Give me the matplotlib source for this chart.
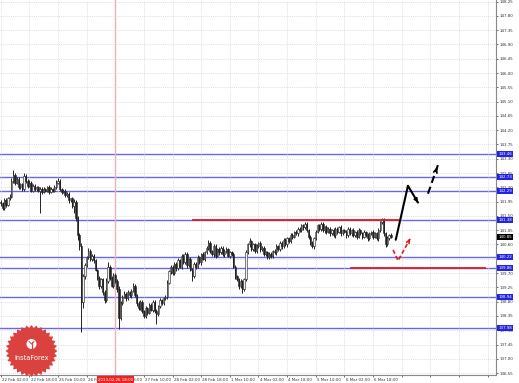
import numpy as np
import matplotlib
matplotlib.use("Agg")
import matplotlib.pyplot as plt
import matplotlib.transforms as mtransforms
from matplotlib.patches import Polygon, Circle

# ---- data (GBP/JPY H1) ----
first_open = 141.95
closes = [
    141.90, 141.75, 142.00, 141.85, 142.05, 142.10, 142.60, 142.80, 142.55, 142.65,
    142.40, 142.50, 142.35, 142.75, 142.60, 142.45, 142.55, 142.30, 142.45, 142.35,
    142.40, 142.30, 142.35, 142.25, 142.35, 142.30, 142.40, 142.25, 142.35, 142.30,
    142.40, 142.55, 142.60, 142.35, 142.25, 142.30, 142.15, 142.20, 142.00, 142.05,
    141.80, 141.95, 141.45, 140.90, 140.55, 138.80, 139.60, 139.95, 140.20, 140.40,
    140.15, 140.25, 140.10, 139.80, 139.55, 139.30, 139.50, 139.10, 138.85, 139.45,
    139.90, 139.55, 139.30, 139.65, 139.45, 139.20, 138.30, 138.75, 138.95, 139.05,
    138.90, 139.10, 139.00, 139.15, 139.30, 139.00, 138.75, 138.60, 138.80, 138.50,
    138.35, 138.60, 138.45, 138.70, 138.55, 138.80, 138.50, 138.40, 138.65, 138.85,
    138.75, 138.90, 138.95, 139.40, 139.75, 139.90, 139.70, 140.00, 139.85, 140.10,
    139.90, 140.25, 140.05, 140.30, 139.95, 140.15, 139.80, 139.60, 140.00, 139.90,
    140.20, 140.05, 140.30, 140.15, 140.35, 140.50, 140.65, 140.40, 140.30, 140.55,
    140.25, 140.45, 140.35, 140.50, 140.30, 140.40, 140.45, 140.25, 140.35, 140.30,
    139.90, 139.60, 139.50, 139.30, 139.45, 139.20, 139.50, 140.35, 140.60, 140.70,
    140.45, 140.60, 140.40, 140.55, 140.65, 140.45, 140.50, 140.30, 140.35, 140.20,
    140.30, 140.25, 140.40, 140.35, 140.55, 140.45, 140.65, 140.55, 140.75, 140.60,
    140.80, 140.70, 140.90, 140.85, 141.00, 140.95, 141.10, 141.05, 141.20, 141.15,
    141.25, 141.05, 140.85, 140.65, 140.55, 140.80, 141.00, 141.20, 141.10, 141.25,
    141.05, 141.15, 141.00, 141.10, 140.95, 141.05, 140.90, 141.10, 141.00, 141.15,
    140.95, 141.05, 141.00, 140.90, 141.10, 140.95, 141.05, 140.90, 141.00, 140.85,
    141.05, 140.95, 140.85, 141.00, 140.90, 140.80, 140.95, 141.00, 140.85, 140.95,
    140.80, 141.05, 141.30, 141.40, 140.95, 140.60, 140.80, 140.90, 140.85,
]
# wick lengths above / below the body, in pips
up_wick = [
    6, 4, 8, 5, 6, 10, 8, 15, 5, 7, 6, 5, 4, 10, 6, 5, 7, 4, 6, 5,
    5, 4, 6, 5, 6, 4, 5, 6, 5, 4, 6, 8, 10, 5, 4, 6, 4, 5, 6, 3,
    5, 8, 4, 6, 5, 10, 8, 6, 5, 10, 6, 5, 4, 5, 4, 6, 5, 4, 6, 8,
    15, 5, 6, 5, 4, 6, 8, 6, 5, 7, 5, 6, 4, 6, 10, 5, 4, 6, 5, 4,
    5, 6, 4, 5, 6, 4, 5, 6, 5, 6, 4, 5, 6, 8, 6, 5, 4, 6, 5, 7,
    5, 6, 4, 5, 6, 4, 5, 6, 5, 4, 6, 5, 4, 6, 5, 6, 10, 5, 4, 6,
    5, 4, 6, 5, 4, 5, 6, 4, 5, 4, 6, 5, 4, 6, 5, 4, 6, 8, 6, 10,
    5, 4, 6, 5, 4, 5, 6, 4, 5, 4, 6, 5, 4, 5, 6, 4, 5, 6, 4, 5,
    5, 4, 6, 5, 4, 5, 6, 4, 5, 4, 7, 5, 4, 5, 6, 4, 5, 6, 4, 5,
    5, 4, 6, 5, 4, 5, 6, 4, 5, 4, 6, 5, 4, 5, 6, 4, 5, 6, 4, 5,
    6, 4, 5, 5, 4, 6, 5, 4, 6, 5, 4, 6, 5, 4, 4, 5, 6, 4, 5,
]
dn_wick = [
    8, 6, 5, 7, 5, 6, 4, 6, 8, 5, 6, 4, 7, 5, 6, 8, 5, 6, 4, 7,
    5, 6, 70, 5, 4, 6, 5, 7, 4, 6, 5, 4, 6, 5, 7, 4, 6, 5, 8, 6,
    6, 20, 10, 15, 12, 95, 20, 8, 6, 5, 7, 6, 8, 5, 6, 10, 6, 8, 10, 5,
    6, 7, 5, 8, 6, 10, 35, 8, 6, 5, 7, 6, 5, 7, 6, 5, 8, 6, 5, 7,
    5, 6, 8, 5, 6, 7, 5, 30, 6, 5, 7, 6, 5, 6, 5, 8, 6, 5, 7, 6,
    5, 7, 6, 5, 8, 6, 5, 15, 6, 7, 5, 6, 8, 5, 6, 5, 7, 6, 5, 8,
    6, 5, 7, 6, 5, 8, 6, 5, 7, 6, 5, 8, 6, 10, 7, 13, 8, 6, 5, 7,
    6, 5, 7, 6, 5, 8, 6, 5, 7, 6, 5, 8, 6, 5, 7, 6, 5, 8, 6, 5,
    7, 6, 5, 8, 6, 5, 7, 6, 5, 8, 6, 5, 7, 6, 5, 8, 6, 5, 7, 6,
    5, 8, 6, 5, 7, 6, 5, 8, 6, 5, 7, 6, 5, 8, 6, 5, 7, 6, 5, 8,
    6, 5, 7, 6, 5, 8, 6, 5, 7, 6, 5, 8, 6, 5, 7, 8, 6, 5, 6,
]

time_labels = ["22 Feb 02:00", "22 Feb 18:00", "25 Feb 10:00", "26 Feb 02:00",
               "26 Feb 18:00", "27 Feb 10:00", "28 Feb 02:00", "28 Feb 18:00",
               "1 Mar 10:00", "4 Mar 02:00", "4 Mar 18:00", "5 Mar 10:00",
               "6 Mar 02:00", "6 Mar 18:00"]
bars_per_label = 16
price_ticks = [148.25, 147.80, 147.35, 146.90, 146.45, 146.00, 145.55, 145.10,
               144.65, 144.20, 143.75, 143.30, 142.85, 142.40, 141.95, 141.50,
               141.05, 140.60, 140.15, 139.70, 139.25, 138.80, 138.35, 137.90,
               137.45, 137.00, 136.55]

levels = [143.46, 142.73, 142.29, 141.38, 140.22, 139.86, 138.94, 137.98]
red_levels = [141.38, 139.86]
red_from = [107.5, 195.7]
red_to = [222.0, 270.5]

marker_bar = 64
marker_label = "2013.02.26 18:00"

# forecast sketches (bar, price)
up_bars = [220.7, 227.5, 233.1]
up_prices = [140.75, 142.45, 141.92]
up2_bars = [238.7, 244.3]
up2_prices = [142.20, 143.11]
dip_bars = [219.2, 222.0, 228.7]
dip_prices = [140.43, 140.09, 140.78]

# ---- figure ----
W, H, DPI = 519, 383, 100
fig = plt.figure(figsize=(W / DPI, H / DPI), dpi=DPI, facecolor="white")
ax = fig.add_axes([0, 1 - 375 / H, 496 / W, 375 / H])
ax.set_facecolor("white")
ax.set_xlim(-0.4, 276.7)
ax.set_ylim(136.49, 148.30)

FS = 2.9
n = len(closes)
x = np.arange(n)
c = np.array(closes)
o = np.concatenate([[first_open], c[:-1]])
hi = np.maximum(o, c) + np.array(up_wick) / 100
lo = np.minimum(o, c) - np.array(dn_wick) / 100

# grid at every label step, continuing into the empty right side
grid_bars = np.arange(0, 277, bars_per_label)
ax.set_xticks(grid_bars)
ax.set_xticklabels(time_labels + [""] * (len(grid_bars) - len(time_labels)), fontsize=FS)
ax.set_yticks(price_ticks)
ax.set_yticklabels([f"{p:.2f}" for p in price_ticks], fontsize=FS)
ax.yaxis.tick_right()
ax.tick_params(axis="both", length=1.5, width=0.5, pad=0.8, colors="#333333")
shift = mtransforms.ScaledTranslation(1.2 / DPI, 0, fig.dpi_scale_trans)
for lbl in ax.get_xticklabels():
    lbl.set_horizontalalignment("left")
    lbl.set_transform(lbl.get_transform() + shift)
ax.grid(True, color="#d4d4d4", linestyle=(0, (1.5, 1.5)), linewidth=0.5, zorder=0)
for side in ("left", "top"):
    ax.spines[side].set_visible(False)
for side in ("right", "bottom"):
    ax.spines[side].set_color("#888888")
    ax.spines[side].set_linewidth(0.8)

# level lines
for lv in levels:
    ax.axhline(lv, color="#6666ee", lw=1.0, zorder=1)
ax.axvline(marker_bar, color="#f4a4a4", lw=1.0, zorder=1)
for lv, a, b in zip(red_levels, red_from, red_to):
    ax.plot([a, b], [lv, lv], color="#e21b1b", lw=1.3, zorder=3)

# candles
ax.vlines(x, lo, hi, color="#222222", lw=0.7, zorder=2)
bull = c >= o
body = np.maximum(np.abs(c - o), 0.015)
ax.bar(x, body, bottom=np.minimum(o, c), width=0.75,
       color=np.where(bull, "#f0f0f0", "#222222"), edgecolor="#222222",
       linewidth=0.4, zorder=2)

# forecast arrows
ax.plot(up_bars, up_prices, color="black", lw=1.5, zorder=4, solid_capstyle="round")
ax.annotate("", xy=(up_bars[-1], up_prices[-1]),
            xytext=(up_bars[-2] + 0.8 * (up_bars[-1] - up_bars[-2]),
                    up_prices[-2] + 0.8 * (up_prices[-1] - up_prices[-2])),
            arrowprops=dict(arrowstyle="->", color="black", lw=1.3, mutation_scale=5),
            zorder=4)
ax.plot(up2_bars, up2_prices, color="black", lw=1.5, ls=(0, (3.5, 2)), zorder=4)
ax.annotate("", xy=(up2_bars[-1], up2_prices[-1]),
            xytext=(up2_bars[0] + 0.8 * (up2_bars[-1] - up2_bars[0]),
                    up2_prices[0] + 0.8 * (up2_prices[-1] - up2_prices[0])),
            arrowprops=dict(arrowstyle="->", color="black", lw=1.3, mutation_scale=6),
            zorder=4)
ax.plot(dip_bars, dip_prices, color="#e21b1b", lw=1.2, ls=(0, (2.5, 1.5)), zorder=4)
ax.annotate("", xy=(dip_bars[-1], dip_prices[-1]),
            xytext=(dip_bars[-2] + 0.8 * (dip_bars[-1] - dip_bars[-2]),
                    dip_prices[-2] + 0.8 * (dip_prices[-1] - dip_prices[-2])),
            arrowprops=dict(arrowstyle="->", color="#e21b1b", lw=1.2, mutation_scale=5),
            zorder=4)

# price boxes on the right scale
tr = mtransforms.blended_transform_factory(ax.transAxes, ax.transData)
box_x = 1 + 2.5 / 496
for lv in levels:
    ax.text(box_x, lv, f"{lv:.2f}", transform=tr, fontsize=FS, color="white",
            va="center", ha="left", clip_on=False, zorder=6,
            bbox=dict(boxstyle="square,pad=0.25", fc="#2323e6", ec="none"))
ax.text(box_x, closes[-1], f"{closes[-1]:.2f}", transform=tr, fontsize=FS,
        color="white", va="center", ha="left", clip_on=False, zorder=6,
        bbox=dict(boxstyle="square,pad=0.25", fc="black", ec="none"))

# vertical-line time label (covers part of the regular time labels, as in MT4)
trx = mtransforms.blended_transform_factory(ax.transData, ax.transAxes)
ax.text(marker_bar, -4.6 / 375, marker_label, transform=trx, fontsize=FS,
        color="white", ha="center", va="center", clip_on=False, zorder=6,
        bbox=dict(boxstyle="square,pad=0.3", fc="#ee2222", ec="none"))

# InstaForex badge (pixel coordinates overlay)
ov = fig.add_axes([0, 0, 1, 1], zorder=10)
ov.set_xlim(0, W)
ov.set_ylim(H, 0)
ov.axis("off")
ov.patch.set_alpha(0)
cx, cy = 31.5, 351
ang = np.linspace(0, 2 * np.pi, 64, endpoint=False)
rad = np.where(np.arange(64) % 2 == 0, 26.0, 23.0)
ov.add_patch(Polygon(np.c_[cx + rad * np.cos(ang), cy + rad * np.sin(ang)],
                     closed=True, fc="#d9423e", ec="none"))
ov.add_patch(Circle((cx, cy - 7), 5.0, fc="white", ec="none"))
ov.plot([cx, cx], [cy - 9, cy - 3.5], color="#d9423e", lw=0.9)
ov.plot([cx - 2.5, cx, cx + 2.5], [cy - 9.5, cy - 7, cy - 9.5], color="#d9423e", lw=0.7)
ov.text(cx, cy + 6.5, "InstaForex", color="white", fontsize=4.8,
        ha="center", va="center")

fig.savefig("out.png", dpi=DPI)
